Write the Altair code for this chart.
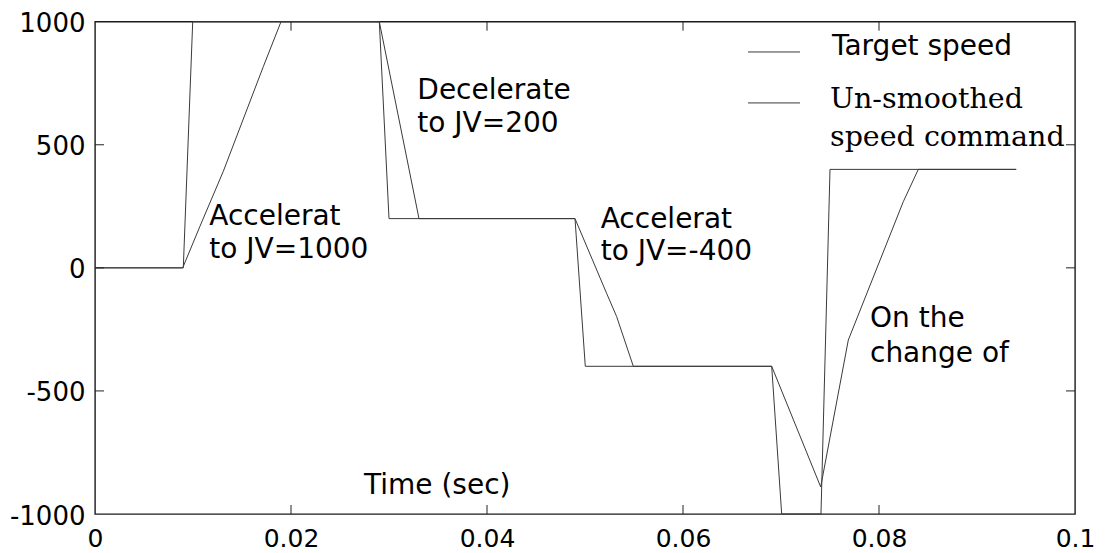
import altair as alt
import pandas as pd

# ---- data ----
target_t = [0.0, 0.00901, 0.00997, 0.02901, 0.0300, 0.04898, 0.05003, 0.06905, 0.07007, 0.07408, 0.0750, 0.094]
target_v = [0, 0, 1000, 1000, 200, 200, -400, -400, -1000, -1000, 400, 400]

slow_t = [0.0, 0.00895, 0.01071, 0.01309, 0.01717, 0.01898, 0.02901, 0.03306, 0.04898, 0.0522, 0.05323,
          0.05493, 0.06905, 0.07405, 0.07687, 0.08248, 0.08401, 0.094]
slow_v = [0, 0, 169, 392, 817, 1000, 1000, 200, 200, -103, -198, -400, -400, -890, -293, 269, 400, 400]

x_ticks = [0, 0.02, 0.04, 0.06, 0.08, 0.1]
y_ticks = [-1000, -500, 0, 500, 1000]

# annotation texts (sans)
ann_text = ["Accelerat", "to JV=1000", "Decelerate", "to JV=200", "Accelerat", "to JV=-400",
            "On the", "change of", "Time (sec)", "Target speed"]
ann_t = [0.01166, 0.01166, 0.03289, 0.03289, 0.0516, 0.0516, 0.07908, 0.07908, 0.02745, 0.0752]
ann_v = [174, 39, 686, 551, 163, 32, -239, -381, -917, 865]

# legend text (serif)
leg_text = ["Un-smoothed", "speed command"]
leg_t = [0.0750, 0.0750]
leg_v = [649, 493]

# legend sample lines
leg_x1 = [0.06663, 0.06663]
leg_x2 = [0.07194, 0.07194]
leg_y = [877, 670]

# ---- tables ----
rows = []
for i, (t, v) in enumerate(zip(target_t, target_v)):
    rows.append({"t": t, "v": v, "s": "Target speed", "o": i})
for i, (t, v) in enumerate(zip(slow_t, slow_v)):
    rows.append({"t": t, "v": v, "s": "Un-smoothed speed command", "o": i})
lines_df = pd.DataFrame(rows)

ann_df = pd.DataFrame({"t": ann_t, "v": ann_v, "txt": ann_text})
leg_df = pd.DataFrame({"t": leg_t, "v": leg_v, "txt": leg_text})
legline_df = pd.DataFrame({"t": leg_x1, "t2": leg_x2, "v": leg_y})

xlen = 0.00092   # inner tick length in x units
ylen = 36.6      # inner tick length in y units
xt_inner = [v for v in x_ticks if 0 < v < 0.1]
yt_inner = [v for v in y_ticks if -1000 < v < 1000]
xtick_df = pd.DataFrame(
    [{"t": v, "v": -1000, "v2": -1000 + ylen} for v in xt_inner]
    + [{"t": v, "v": 1000, "v2": 1000 - ylen} for v in xt_inner])
ytick_df = pd.DataFrame(
    [{"v": v, "t": 0, "t2": xlen} for v in yt_inner]
    + [{"v": v, "t": 0.1, "t2": 0.1 - xlen} for v in yt_inner])

xs = alt.Scale(domain=[0, 0.1], nice=False, zero=False)
ys = alt.Scale(domain=[-1000, 1000], nice=False, zero=False)

x_axis = alt.Axis(
    values=x_ticks, labelExpr="format(datum.value, '.2~f')", ticks=False, domain=False, grid=False,
    labelFont="DejaVu Sans", labelFontSize=25, labelColor="#000",
    labelPadding=12, labelFlush=False, labelOverlap=False, title=None)
y_axis = alt.Axis(
    values=y_ticks, labelExpr="'' + datum.value", ticks=False, domain=False, grid=False,
    labelFont="DejaVu Sans", labelFontSize=26, labelColor="#000", labelOffset=2,
    labelPadding=10, labelFlush=False, labelOverlap=False, title=None)

X = alt.X("t:Q", scale=xs, axis=x_axis)
Y = alt.Y("v:Q", scale=ys, axis=y_axis)

line_color = "#3a3a3a"

lines = alt.Chart(lines_df).mark_line(strokeWidth=1, color=line_color).encode(
    x=X, y=Y, detail="s:N", order="o:Q",
)

xticks = alt.Chart(xtick_df).mark_rule(color="#222", strokeWidth=1).encode(
    x=X, y=Y, y2="v2:Q",
)
yticks = alt.Chart(ytick_df).mark_rule(color="#222", strokeWidth=1).encode(
    x=X, x2="t2:Q", y=Y,
)

leglines = alt.Chart(legline_df).mark_rule(color=line_color, strokeWidth=1).encode(
    x=X, x2="t2:Q", y=Y,
)

ann = alt.Chart(ann_df).mark_text(
    align="left", baseline="alphabetic", font="DejaVu Sans", fontSize=28, color="#000"
).encode(x=X, y=Y, text="txt:N")

leg = alt.Chart(leg_df).mark_text(
    align="left", baseline="alphabetic", font="DejaVu Serif", fontSize=28.5, color="#000"
).encode(x=X, y=Y, text="txt:N")

chart = alt.layer(lines, xticks, yticks, leglines, ann, leg).properties(
    width=980,
    height=492.3,
    padding={"left": 87, "top": 13.7, "right": 22, "bottom": 38},
    autosize=alt.AutoSizeParams(type="none"),
    background="white",
).configure_view(stroke="#1a1a1a", strokeWidth=1.4)

chart.save("out.html", embed_options={"renderer": "svg", "actions": False})
